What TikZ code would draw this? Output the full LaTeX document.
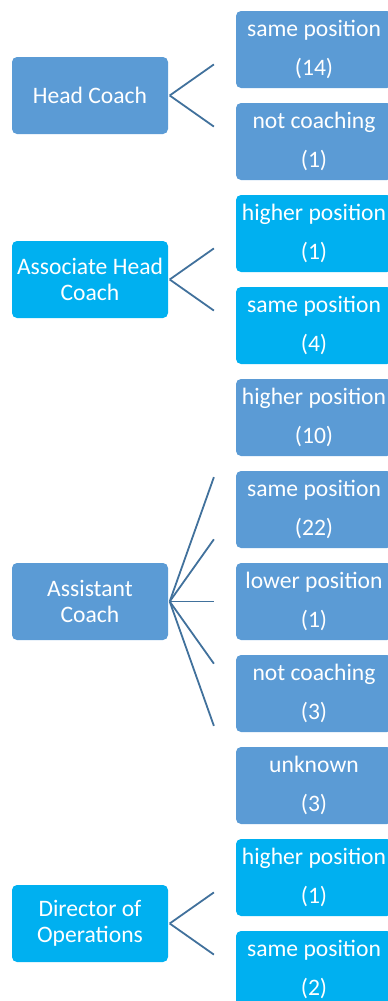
\documentclass[tikz,border=0pt]{standalone}
\usepackage{fontspec}
\setmainfont{Carlito}
\usetikzlibrary{calc}
\definecolor{boxblue}{HTML}{5B9BD5}
\definecolor{boxcyan}{HTML}{00B0F0}
\definecolor{linkblue}{HTML}{41719C}
\tikzset{
  rolebox/.style={draw=none, rounded corners=5pt, minimum width=156pt, minimum height=77pt,
    inner sep=0pt, text=white, align=center, font=\fontsize{23.6}{26}\selectfont},
  outcome/.style={draw=none, rounded corners=5pt, minimum width=156pt, minimum height=77pt,
    inner sep=0pt, text=white, align=center, font=\fontsize{23.6}{38.5}\selectfont},
  link/.style={draw=linkblue, line width=1.8pt}
}
\begin{document}
\begin{tikzpicture}[x=1pt, y=-1pt]
\path[use as bounding box, clip] (0,0) rectangle (388,1001);
% role boxes on the left
\node[rolebox, fill=boxblue] (hc) at (90,95.5) {Head Coach};
\node[rolebox, fill=boxcyan] (ahc) at (90,279.5) {Associate Head\\Coach};
\node[rolebox, fill=boxblue] (ac) at (90,601.5) {Assistant\\Coach};
\node[rolebox, fill=boxcyan] (dop) at (90,923.5) {Director of\\Operations};
% outcome boxes on the right
\node[outcome, fill=boxblue] (o1) at (314,49.5) {same position\\(14)};
\node[outcome, fill=boxblue] (o2) at (314,141.5) {not coaching\\(1)};
\node[outcome, fill=boxcyan] (o3) at (314,233.5) {higher position\\(1)};
\node[outcome, fill=boxcyan] (o4) at (314,325.5) {same position\\(4)};
\node[outcome, fill=boxblue] (o5) at (314,417.5) {higher position\\(10)};
\node[outcome, fill=boxblue] (o6) at (314,509.5) {same position\\(22)};
\node[outcome, fill=boxblue] (o7) at (314,601.5) {lower position\\(1)};
\node[outcome, fill=boxblue] (o8) at (314,693.5) {not coaching\\(3)};
\node[outcome, fill=boxblue] (o9) at (314,785.5) {unknown\\(3)};
\node[outcome, fill=boxcyan] (o10) at (314,877.5) {higher position\\(1)};
\node[outcome, fill=boxcyan] (o11) at (314,969.5) {same position\\(2)};
% fan-out connectors, stopping short of the outcome boxes
\foreach \p/\c in {hc/o1, hc/o2, ahc/o3, ahc/o4, ac/o5, ac/o6, ac/o7, ac/o8, ac/o9, dop/o10, dop/o11}
  \draw[link] ($(\p.east)+(1.5,0)$) -- ($(\p.east)!0.676!(\c.west)$);
\end{tikzpicture}
\end{document}
